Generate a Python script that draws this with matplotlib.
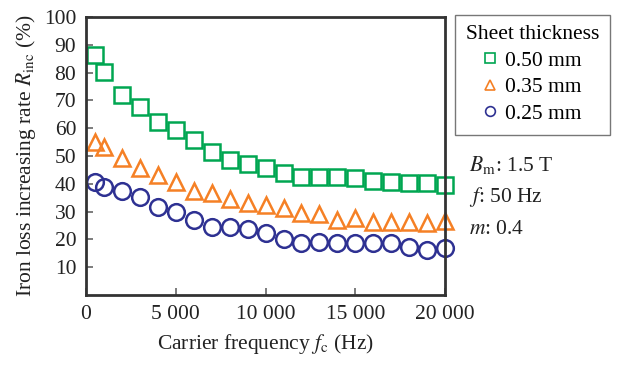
import matplotlib
matplotlib.use('Agg')
import matplotlib.pyplot as plt
from matplotlib.lines import Line2D

# ─── Data ────────────────────────────────────────────────────────────────────
freq = [500, 1000, 2000, 3000, 4000, 5000, 6000, 7000, 8000, 9000, 10000,
        11000, 12000, 13000, 14000, 15000, 16000, 17000, 18000, 19000, 20000]
r_050 = [86.3, 80.2, 72.0, 67.7, 62.3, 59.4, 55.8, 51.5, 48.6, 47.0, 45.6,
         43.8, 42.6, 42.3, 42.3, 42.0, 41.0, 40.8, 40.2, 40.2, 39.6]
r_035 = [55.2, 53.3, 49.2, 45.6, 43.2, 40.8, 37.5, 36.6, 34.4, 33.0, 32.4,
         31.2, 29.6, 29.1, 27.0, 27.6, 26.4, 26.1, 26.1, 25.9, 26.7]
r_025 = [40.8, 39.0, 37.5, 35.4, 31.5, 30.0, 27.0, 24.6, 24.3, 23.6, 22.4,
         20.0, 18.6, 19.2, 18.8, 18.8, 18.6, 18.6, 17.2, 16.2, 16.8]

x_ticks = [0, 5000, 10000, 15000, 20000]
x_ticklabels = ['0', '5 000', '10 000', '15 000', '20 000']
y_ticks = [10, 20, 30, 40, 50, 60, 70, 80, 90, 100]

GREEN = '#00a651'
ORANGE = '#f58025'
BLUE = '#2e3192'
AX_CLR = '#333333'
TXT = '#222222'
FS = 15.5

plt.rcParams['font.family'] = ['Liberation Serif', 'DejaVu Serif']
plt.rcParams['mathtext.fontset'] = 'stix'

fig = plt.figure(figsize=(6.19, 3.65), dpi=100)
ax = fig.add_axes([0.139, 0.192, 0.580, 0.761])

series = [
    (r_050, 's', GREEN, 11.5, '0.50 mm'),
    (r_035, '^', ORANGE, 11.0, '0.35 mm'),
    (r_025, 'o', BLUE, 12.0, '0.25 mm'),
]
for vals, mk, c, ms, lab in series:
    ax.plot(freq, vals, linestyle='none', marker=mk, markersize=ms,
            markerfacecolor='none', markeredgecolor=c, markeredgewidth=1.8,
            clip_on=False, label=lab)

ax.set_xlim(0, 20000)
ax.set_ylim(0, 100)
ax.set_xticks(x_ticks)
ax.set_xticklabels(x_ticklabels)
ax.set_yticks(y_ticks)
ax.tick_params(direction='in', length=5, width=1.2, colors='#666666',
               labelcolor=TXT, labelsize=FS, pad=7)
for sp in ax.spines.values():
    sp.set_linewidth(2)
    sp.set_edgecolor(AX_CLR)

ax.set_xlabel(r'Carrier frequency $f_\mathrm{c}$ (Hz)', fontsize=FS,
              color=TXT, labelpad=6)
ax.set_ylabel(r'Iron loss increasing rate $R_\mathrm{inc}$ (%)', fontsize=FS,
              color=TXT, labelpad=4)

# ─── Legend ──────────────────────────────────────────────────────────────────
handles = [Line2D([], [], linestyle='none', marker=mk, markersize=7,
                  markerfacecolor='none', markeredgecolor=c,
                  markeredgewidth=1.2)
           for _, mk, c, _, _ in series]
leg = fig.legend(handles, [s[4] for s in series], title='Sheet thickness',
                 loc='upper left', bbox_to_anchor=(0.735, 0.96),
                 borderaxespad=0, fontsize=FS, title_fontsize=FS,
                 frameon=True, fancybox=False, handlelength=0.7,
                 handletextpad=0.35, labelspacing=0.3, borderpad=0.5)
leg.get_frame().set_edgecolor('#555555')
leg.get_frame().set_linewidth(1.0)

# ─── Conditions ──────────────────────────────────────────────────────────────
fig.text(0.757, 0.548, r'$B_\mathrm{m}$: 1.5 T', fontsize=FS, color=TXT,
         va='center')
fig.text(0.757, 0.46, r'$f$: 50 Hz', fontsize=FS, color=TXT, va='center')
fig.text(0.757, 0.372, r'$m$: 0.4', fontsize=FS, color=TXT, va='center')

fig.savefig('out.png', dpi=100)
